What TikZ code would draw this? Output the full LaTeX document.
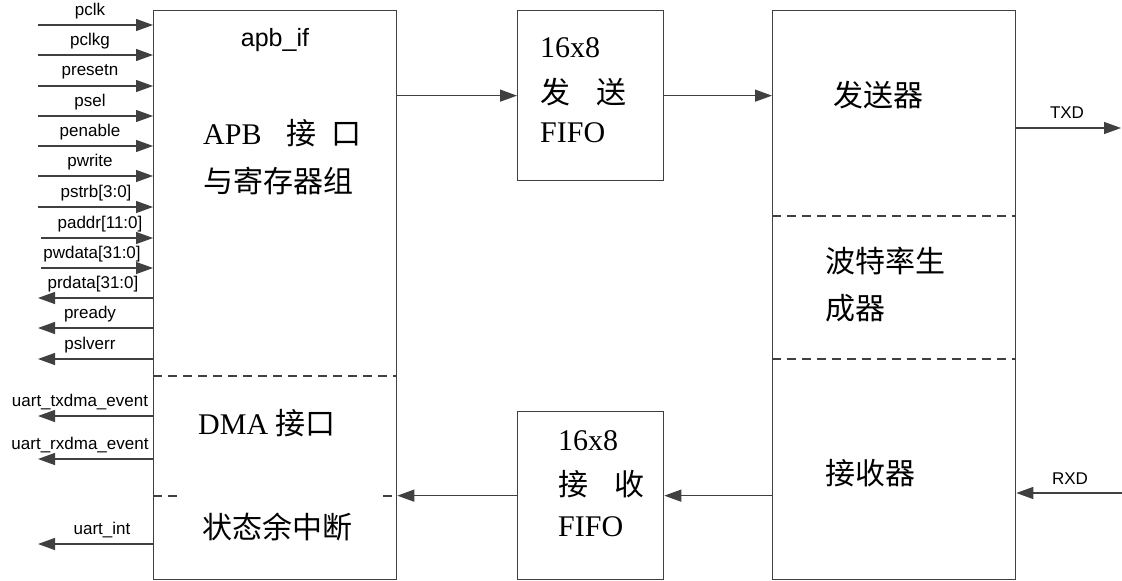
\documentclass[tikz,border=0pt]{standalone}
\usepackage{fontspec}
\setmainfont{Liberation Serif}
\newfontfamily\arial{Liberation Sans}
\newfontfamily\cjk{Noto Sans CJK SC}
\usetikzlibrary{arrows.meta}
\definecolor{linec}{HTML}{404040}
\begin{document}
\begin{tikzpicture}[x=1pt,y=-1pt,
  blk/.style={draw=linec,line width=1.3pt,inner sep=0pt,anchor=north west},
  sig/.style={draw=linec,line width=1.3pt,-{Triangle[length=17pt,width=12pt]}},
  dashln/.style={draw=linec,line width=1.1pt,dash pattern=on 9pt off 6pt},
  lbl/.style={font=\arial\fontsize{17}{19}\selectfont,inner sep=0pt},
  big/.style={font=\fontsize{30}{34}\selectfont,inner sep=0pt,anchor=west},
  bigc/.style={font=\cjk\fontsize{30}{34}\selectfont,inner sep=0pt,anchor=west}]
\useasboundingbox (0,0) rectangle (1122,581);
% blocks
\node[blk,minimum width=243pt,minimum height=569pt] (apb) at (153,10) {};
\node[blk,minimum width=146pt,minimum height=170pt] (txf) at (517,10) {};
\node[blk,minimum width=146pt,minimum height=168pt] (rxf) at (517,411) {};
\node[blk,minimum width=243pt,minimum height=569pt] (rb) at (772,10) {};
% dashed separators
\draw[dashln] (apb.west |- 0,376) -- (apb.east |- 0,376);
\draw[dashln] (apb.west |- 0,496) -- (183,496);
\draw[dashln] (383,496) -- (apb.east |- 0,496);
\draw[dashln] (rb.west |- 0,216) -- (rb.east |- 0,216);
\draw[dashln] (rb.west |- 0,359) -- (rb.east |- 0,359);
% texts in apb_if
\node[font=\arial\fontsize{25}{28}\selectfont,inner sep=0pt] (tapb) at (275,40) {apb\_if};
\node[big] (tapb1) at (203,133) {APB\hspace{25pt}{\cjk 接\hspace{15pt}口}};
\node[bigc] (tapb2) at (203,181) {与寄存器组};
\node[big] (tdma) at (198,423) {DMA {\cjk 接口}};
\node[bigc] (tint) at (202,527) {状态余中断};
% TX FIFO text
\node[big] (tf1) at (540,48) {16x8};
\node[bigc] (tf2) at (540,92) {发\hspace{26pt}送};
\node[big] (tf3) at (540,133) {FIFO};
% RX FIFO text
\node[big] (rf1) at (558,441) {16x8};
\node[bigc] (rf2) at (558,484) {接\hspace{26pt}收};
\node[big] (rf3) at (558,527) {FIFO};
% right block texts
\node[bigc] (r1) at (833,95) {发送器};
\node[bigc] (r2) at (825,261) {波特率生};
\node[bigc] (r3) at (825,308) {成器};
\node[bigc] (r4) at (825,473) {接收器};
% inter-block arrows
\draw[sig] (apb.east |- txf.west) -- (txf.west);
\draw[sig] (txf.east) -- (rb.west |- txf.east);
\draw[sig] (rxf.west) -- (apb.east |- rxf.west);
\draw[sig] (rb.west |- rxf.east) -- (rxf.east);
% TXD / RXD
\coordinate (txd) at (1121,128);
\coordinate (rxd) at (1122,493);
\draw[sig] (rb.east |- txd) -- (txd);
\draw[sig] (rxd) -- (rb.east |- rxd);
\node[lbl] (ltxd) at (1067,113) {TXD};
\node[lbl] (lrxd) at (1070,479) {RXD};
% left inputs
\foreach \nm/\y/\lx/\sx [count=\i] in {pclk/25/90/38, pclkg/55/90/38, presetn/86/90/38, psel/116/90/38, penable/146/90/38, pwrite/176/90/38, {pstrb[3:0]}/207/96/38, {paddr[11:0]}/238/100/41, {pwdata[31:0]}/268/92/41}{
  \coordinate (in\i) at (\sx,\y);
  \draw[sig] (in\i) -- (apb.west |- in\i);
  \node[lbl] (lin\i) at (\lx,\y-14) {\nm};
}
% left outputs
\foreach \nm/\y/\lx [count=\i] in {{prdata[31:0]}/298/93, pready/328/90, pslverr/359/90, uart\_txdma\_event/416/80, uart\_rxdma\_event/459/80, uart\_int/544/102}{
  \coordinate (out\i) at (38,\y);
  \draw[sig] (apb.west |- out\i) -- (out\i);
  \node[lbl] (lout\i) at (\lx,\y-14) {\nm};
}
\end{tikzpicture}
\end{document}
